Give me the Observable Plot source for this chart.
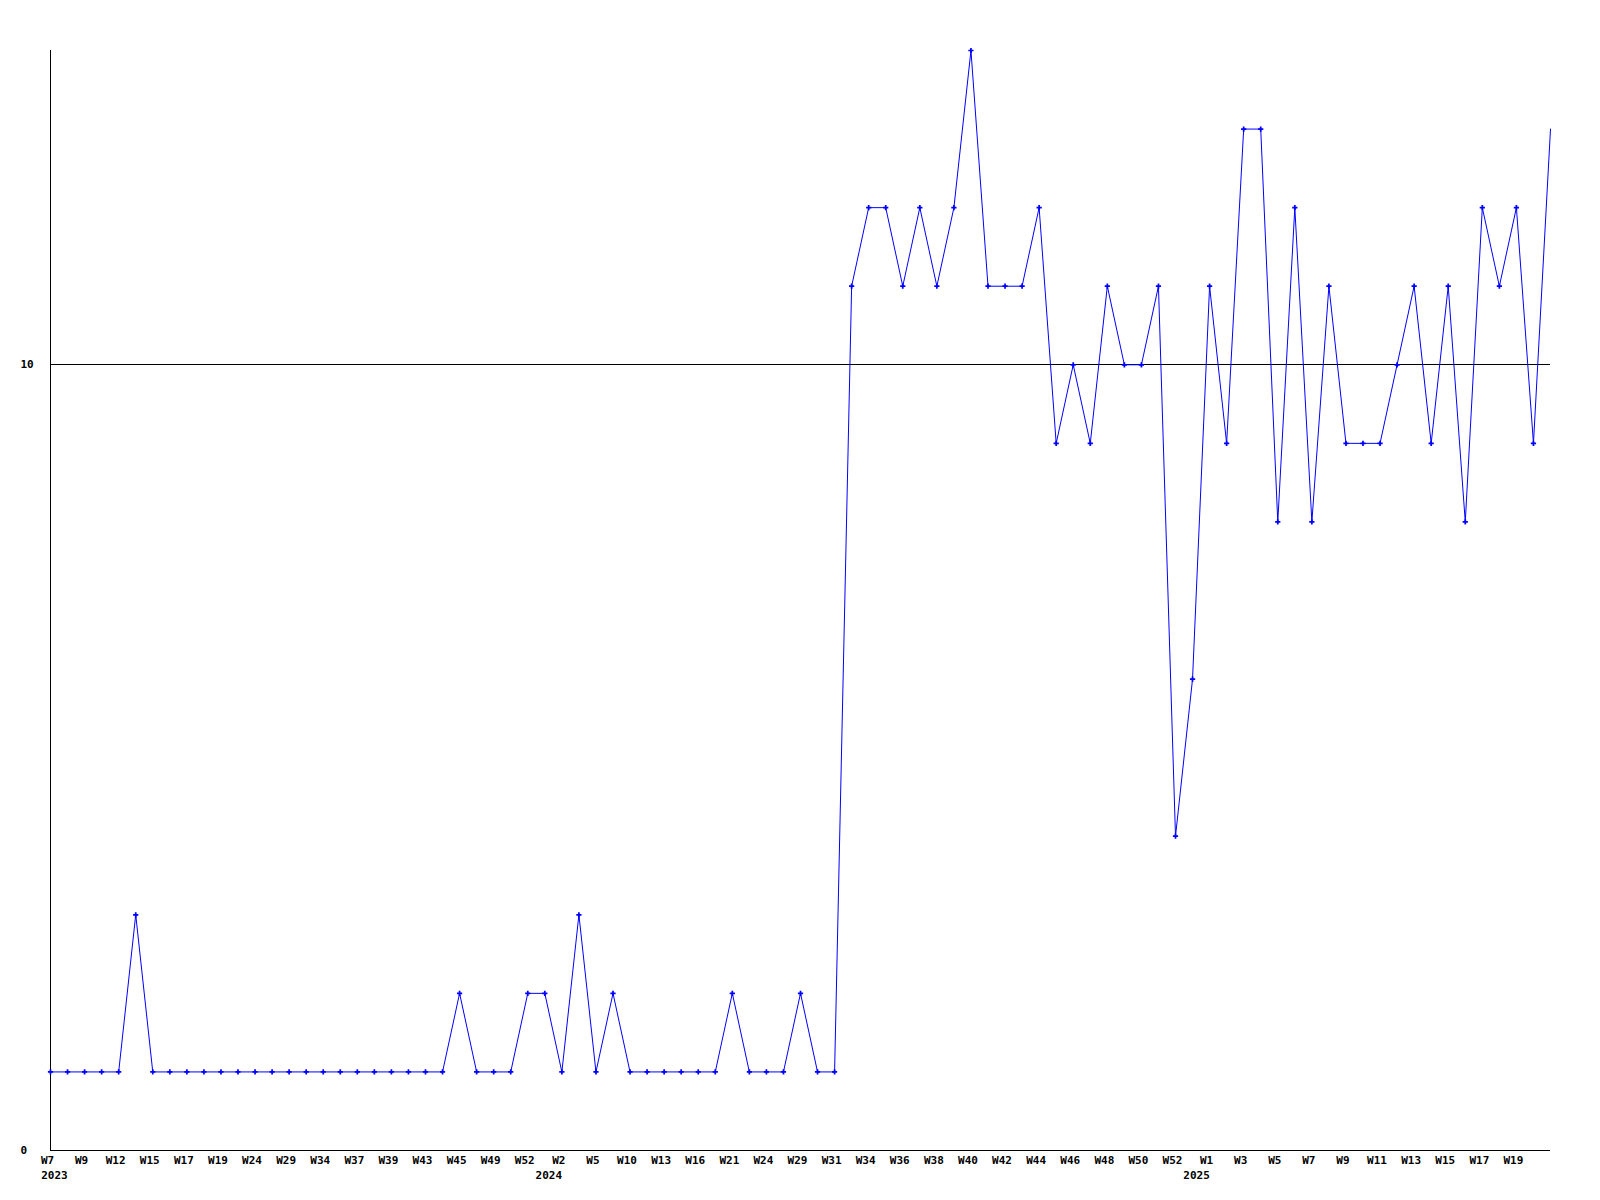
<!DOCTYPE html>
<html><head><meta charset="utf-8">
<script src="https://cdn.jsdelivr.net/npm/d3@7"></script>
<script src="https://cdn.jsdelivr.net/npm/@observablehq/plot@0.6"></script>
<style>body{margin:0;background:#fff}</style>
</head><body><div id="chart"></div>
<script>
const years = [
  2023,2023,2023,2023,2023,2023,2023,2023,2023,2023,2023,2023,2023,2023,2023,2023,2023,2023,2023,2023,2023,2023,2023,2023,2023,2023,2023,2023,2023,
  2024,2024,2024,2024,2024,2024,2024,2024,2024,2024,2024,2024,2024,2024,2024,2024,2024,2024,2024,2024,2024,2024,2024,2024,2024,2024,2024,2024,2024,2024,2024,2024,2024,2024,2024,2024,2024,2024,
  2025,2025,2025,2025,2025,2025,2025,2025,2025,2025,2025,2025,2025,2025,2025,2025,2025,2025,2025,2025,2025,2025
];
const weeks = [
  7,8,9,10,12,13,15,16,17,18,19,21,24,26,29,31,34,35,37,38,39,41,43,44,45,47,49,50,52,
  0,2,3,5,7,10,11,13,14,16,18,21,22,24,26,29,30,31,33,34,35,36,37,38,39,40,41,42,43,44,45,46,47,48,49,50,51,52,
  0,1,2,3,4,5,6,7,8,9,10,11,12,13,14,15,16,17,18,19,20,21
];
const values = [
  1,1,1,1,1,3,1,1,1,1,1,1,1,1,1,1,1,1,1,1,1,1,1,1,2,1,1,1,2,
  2,1,3,1,2,1,1,1,1,1,1,2,1,1,1,2,1,1,11,12,12,11,12,11,12,14,11,11,11,12,9,10,9,11,10,10,11,4,
  6,11,9,13,13,8,12,8,11,9,9,9,10,11,9,11,8,12,11,12,9,13
];
const yTicks = [0, 10];

const data = values.map((v, i) => ({i, key: years[i] + "-W" + weeks[i], year: years[i], week: weeks[i], value: v}));
const keys = data.map(d => d.key);
const firstOfYear = data.filter((d, i) => i === 0 || data[i - 1].year !== d.year);

const chart = Plot.plot({
  width: 1600, height: 1200,
  marginLeft: 50, marginRight: 50, marginTop: 50, marginBottom: 50,
  style: {fontFamily: "'DejaVu Sans Mono', monospace", fontSize: "11px", fontWeight: "bold", background: "#fff", color: "#000"},
  x: {type: "point", domain: keys, padding: 0, round: false, axis: null},
  y: {domain: [0, 14], axis: null},
  marks: [
    Plot.ruleY([10], {stroke: "#000", strokeWidth: 1, shapeRendering: "crispEdges"}),
    Plot.ruleY([0], {stroke: "#000", strokeWidth: 1, shapeRendering: "crispEdges"}),
    Plot.ruleX([keys[0]], {stroke: "#000", strokeWidth: 1, shapeRendering: "crispEdges"}),
    Plot.line(data, {x: "key", y: "value", stroke: "#0000ff", strokeWidth: 1}),
    Plot.dot(data.slice(0, -1), {x: "key", y: "value", symbol: "cross", fill: "#0000ff", r: 2.2}),
    Plot.text(yTicks, {y: d => d, frameAnchor: "left", dx: -30, textAnchor: "start", text: d => String(d), fill: "#000"}),
    Plot.text(data.filter(d => d.i % 2 === 0 && d.i < data.length - 1), {x: "key", frameAnchor: "bottom", dy: 13, dx: -3, text: d => "W" + d.week, fill: "#000"}),
    Plot.text(firstOfYear, {x: "key", frameAnchor: "bottom", dy: 28, dx: 4, text: d => String(d.year), fill: "#000"})
  ]
});
document.getElementById("chart").append(chart);
</script>
</body></html>
